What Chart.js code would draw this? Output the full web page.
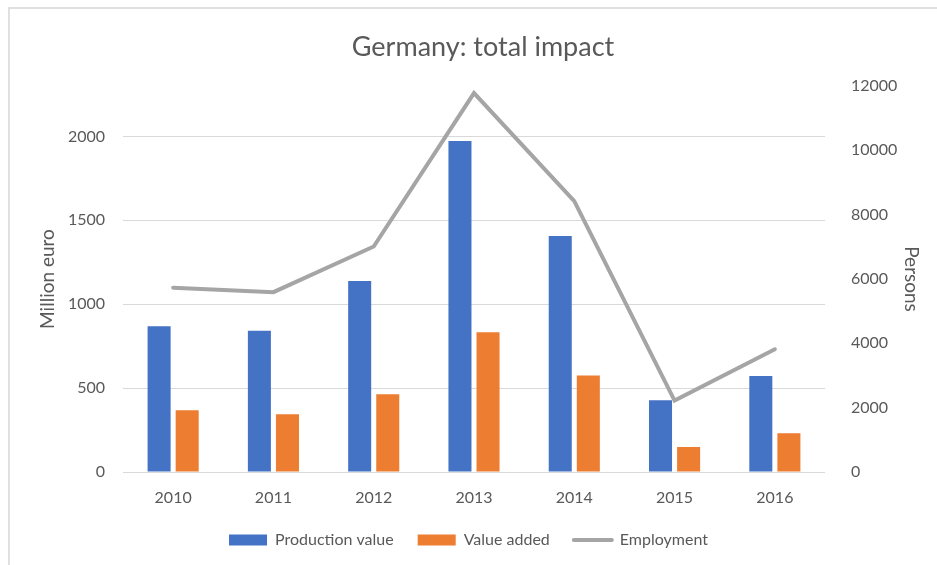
<!DOCTYPE html>
<html>
<head>
<meta charset="utf-8">
<script src="https://cdn.jsdelivr.net/npm/chart.js@4"></script>
<style>
  body { margin: 0; background: #fff; }
  #wrap { position: relative; width: 937px; height: 565px; overflow: hidden; }
  #frame { position: absolute; left: 8px; top: 7px; width: 960px; height: 600px;
           border-top: 2px solid #e0e0e0; border-left: 2px solid #e0e0e0; }
  canvas { position: absolute; left: 0; top: 0; }
</style>
</head>
<body>
<div id="wrap">
  <div id="frame"></div>
  <canvas id="impactChart" width="937" height="565"></canvas>
</div>
<script>
// Años y series
const years = ['2010', '2011', '2012', '2013', '2014', '2015', '2016'];
const productionValue = [868, 842, 1138, 1972, 1406, 428, 572];   // millones de euros
const valueAdded = [368, 344, 463, 833, 575, 149, 231];            // millones de euros
const employment = [5730, 5590, 7010, 11780, 8420, 2220, 3815];    // personas

// Marcas de los ejes
const euroTicks = [0, 500, 1000, 1500, 2000];
const personTicks = [0, 2000, 4000, 6000, 8000, 10000, 12000];

const chartTitle = 'Germany: total impact';
const textColor = '#595959';
const fontFamily = 'Lato, "Open Sans", sans-serif';

// Título centrado sobre el marco completo del gráfico (un poco a la derecha del lienzo)
const titlePlugin = {
    id: 'frameTitle',
    afterDraw: function(chart) {
        const c = chart.ctx;
        c.save();
        c.font = '27px ' + fontFamily;
        c.fillStyle = textColor;
        c.textAlign = 'center';
        c.textBaseline = 'middle';
        c.fillText(chartTitle, 483, 47);
        c.restore();
    }
};

document.addEventListener('DOMContentLoaded', function() {
    const ctx = document.getElementById('impactChart').getContext('2d');
    new Chart(ctx, {
        type: 'bar',
        data: {
            labels: years,
            datasets: [{
                label: 'Production value',
                data: productionValue,
                backgroundColor: '#4472C4',
                borderWidth: 0,
                yAxisID: 'y',
                categoryPercentage: 0.56,
                barPercentage: 0.82
            }, {
                label: 'Value added',
                data: valueAdded,
                backgroundColor: '#ED7D31',
                borderWidth: 0,
                yAxisID: 'y',
                categoryPercentage: 0.56,
                barPercentage: 0.82
            }, {
                type: 'line',
                label: 'Employment',
                data: employment,
                borderColor: '#A5A5A5',
                backgroundColor: '#A5A5A5',
                borderWidth: 4,
                borderCapStyle: 'round',
                pointRadius: 0,
                tension: 0,
                yAxisID: 'y1'
            }]
        },
        plugins: [titlePlugin],
        options: {
            responsive: false,
            animation: false,
            layout: { padding: { left: 0, right: 0, top: 86, bottom: 7 } },
            plugins: {
                title: { display: false },
                legend: {
                    position: 'bottom',
                    labels: {
                        color: textColor,
                        font: { family: fontFamily, size: 16 },
                        usePointStyle: true,
                        pointStyleWidth: 38,
                        boxHeight: 11,
                        padding: 24,
                        // cajas rectangulares para barras, trazo grueso para la línea
                        generateLabels: function(chart) {
                            return chart.data.datasets.map(function(ds, i) {
                                const isLine = ds.type === 'line';
                                return {
                                    text: ds.label,
                                    datasetIndex: i,
                                    fillStyle: ds.backgroundColor,
                                    strokeStyle: isLine ? ds.borderColor : ds.backgroundColor,
                                    lineWidth: isLine ? 4 : 0,
                                    lineCap: 'round',
                                    pointStyle: isLine ? 'line' : 'rect',
                                    fontColor: textColor,
                                    hidden: false
                                };
                            });
                        }
                    }
                },
                tooltip: { enabled: false }
            },
            scales: {
                x: {
                    grid: { display: false, drawTicks: false },
                    border: { display: false },
                    ticks: {
                        color: textColor,
                        font: { family: fontFamily, size: 16 },
                        padding: 16
                    },
                    afterFit: function(scale) { scale.height = 36; }
                },
                y: {
                    position: 'left',
                    min: 0,
                    max: 2300,
                    border: { display: false },
                    grid: { color: '#D9D9D9', lineWidth: 1, drawTicks: false },
                    ticks: {
                        color: textColor,
                        font: { family: fontFamily, size: 16 },
                        padding: 18,
                        callback: function(v) { return String(v); }
                    },
                    afterBuildTicks: function(scale) {
                        scale.ticks = euroTicks.map(function(v) { return { value: v }; });
                    },
                    title: {
                        display: true,
                        text: 'Million euro',
                        color: textColor,
                        font: { family: fontFamily, size: 19 },
                        padding: { top: 36, bottom: 0 }
                    },
                    afterFit: function(scale) { scale.width = 123; }
                },
                y1: {
                    position: 'right',
                    min: 0,
                    max: 12000,
                    border: { display: false },
                    grid: { display: false, drawOnChartArea: false },
                    ticks: {
                        color: textColor,
                        font: { family: fontFamily, size: 16 },
                        padding: 18,
                        callback: function(v) { return String(v); }
                    },
                    afterBuildTicks: function(scale) {
                        scale.ticks = personTicks.map(function(v) { return { value: v }; });
                    },
                    title: {
                        display: true,
                        text: 'Persons',
                        color: textColor,
                        font: { family: fontFamily, size: 19 },
                        padding: { top: 14, bottom: 0 }
                    },
                    afterFit: function(scale) { scale.width = 112; }
                }
            }
        }
    });
});
</script>
</body>
</html>
